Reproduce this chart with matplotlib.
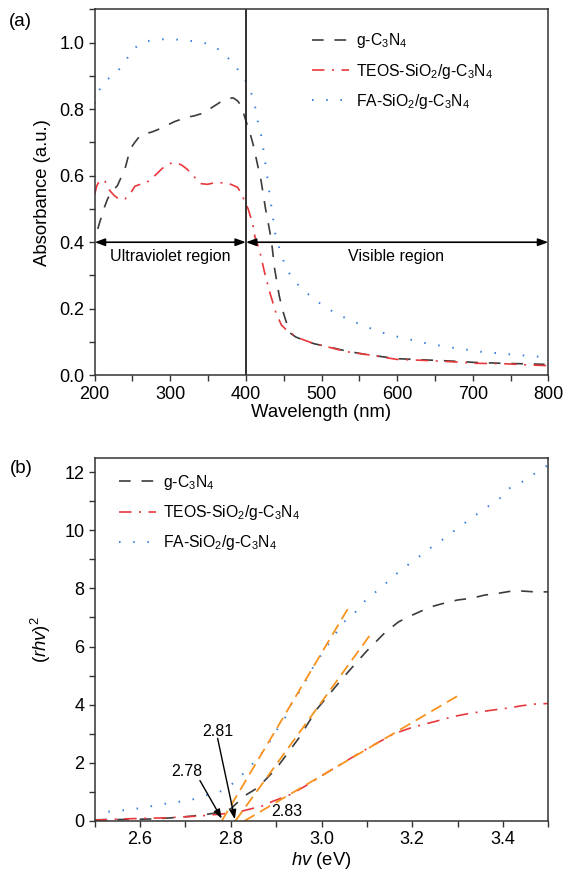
import matplotlib
matplotlib.use("Agg")
import matplotlib.pyplot as plt
from matplotlib.ticker import MultipleLocator

plt.rcParams["font.family"] = ["Liberation Sans", "DejaVu Sans"]
plt.rcParams["mathtext.fontset"] = "custom"
plt.rcParams["mathtext.rm"] = "Liberation Sans"
plt.rcParams["mathtext.it"] = "Liberation Sans:italic"
plt.rcParams["mathtext.bf"] = "Liberation Sans:bold"

# ---- (a) UV-vis absorbance ----
wl_g = [204, 208, 212, 217, 222, 230, 236, 240, 247, 253, 260, 266, 274, 282, 290, 298, 305, 311,
        318, 325, 332, 339, 347, 355, 362, 370, 377, 383, 389, 394, 400, 405, 410, 415, 420, 426,
        431, 434, 438, 444, 448, 452, 458, 466, 474, 490, 510, 527, 545, 560, 580, 600, 640, 680,
        700, 740, 780, 795]
abs_g = [0.44, 0.47, 0.50, 0.53, 0.55, 0.57, 0.60, 0.62, 0.68, 0.70, 0.72, 0.727, 0.73, 0.737,
         0.745, 0.754, 0.762, 0.767, 0.772, 0.777, 0.78, 0.785, 0.79, 0.805, 0.815, 0.827, 0.832,
         0.834, 0.825, 0.809, 0.765, 0.732, 0.69, 0.637, 0.586, 0.50, 0.44, 0.40, 0.32, 0.24, 0.20,
         0.17, 0.128, 0.115, 0.108, 0.095, 0.085, 0.076, 0.068, 0.062, 0.056, 0.050, 0.046, 0.042,
         0.039, 0.036, 0.034, 0.033]

wl_t = [200, 203, 207, 213, 220, 226, 233, 240, 247, 253, 260, 264, 271, 280, 289, 295, 300, 308,
        315, 322, 330, 336, 341, 349, 357, 364, 370, 377, 383, 389, 394, 398, 403, 409, 412, 418,
        425, 432, 440, 447, 456, 471, 489, 507, 533, 564, 599, 634, 670, 705, 740, 775, 800]
abs_t = [0.545, 0.571, 0.586, 0.586, 0.555, 0.54, 0.528, 0.53, 0.546, 0.568, 0.574, 0.581, 0.583,
         0.601, 0.621, 0.632, 0.637, 0.639, 0.632, 0.62, 0.601, 0.585, 0.576, 0.574, 0.578, 0.578,
         0.579, 0.577, 0.571, 0.565, 0.546, 0.525, 0.50, 0.455, 0.416, 0.376, 0.306, 0.246, 0.186,
         0.151, 0.131, 0.111, 0.096, 0.086, 0.071, 0.061, 0.048, 0.045, 0.041, 0.036, 0.035, 0.031,
         0.029]

wl_f = [200, 207, 217, 228, 240, 251, 268, 286, 304, 320, 338, 353, 369, 382, 396, 406, 412, 416,
        421, 424, 427, 430, 433, 439, 445, 452, 462, 476, 493, 510, 530, 551, 571, 590, 611, 632,
        652, 673, 695, 716, 737, 758, 779, 800]
abs_f = [0.817, 0.862, 0.89, 0.907, 0.942, 0.982, 1.004, 1.01, 1.01, 1.007, 1.002, 0.995, 0.972,
         0.94, 0.90, 0.857, 0.809, 0.76, 0.714, 0.664, 0.617, 0.569, 0.518, 0.423, 0.376, 0.329,
         0.288, 0.256, 0.224, 0.198, 0.174, 0.153, 0.136, 0.121, 0.111, 0.099, 0.091, 0.083,
         0.076, 0.069, 0.066, 0.061, 0.058, 0.053]

# ---- (b) Tauc plot ----
hv_g = [2.50, 2.56, 2.63, 2.68, 2.71, 2.74, 2.78, 2.80, 2.83, 2.86, 2.90, 2.95, 2.99, 3.03, 3.06,
        3.10, 3.14, 3.17, 3.20, 3.24, 3.27, 3.30, 3.33, 3.36, 3.39, 3.42, 3.44, 3.47, 3.50]
tauc_g = [0.04, 0.05, 0.07, 0.12, 0.16, 0.21, 0.31, 0.42, 0.86, 1.15, 1.8, 2.85, 3.85, 4.6, 5.15,
          5.85, 6.48, 6.85, 7.08, 7.36, 7.49, 7.6, 7.66, 7.77, 7.83, 7.91, 7.91, 7.88, 7.88]

hv_t = [2.50, 2.56, 2.66, 2.73, 2.78, 2.82, 2.84, 2.87, 2.89, 2.93, 2.96, 3.00, 3.04, 3.08, 3.12,
        3.16, 3.20, 3.25, 3.29, 3.33, 3.38, 3.41, 3.44, 3.47, 3.50]
tauc_t = [0.03, 0.07, 0.11, 0.17, 0.24, 0.32, 0.40, 0.52, 0.66, 0.9, 1.16, 1.55, 1.93, 2.3, 2.66,
          3.0, 3.22, 3.42, 3.59, 3.71, 3.82, 3.88, 3.96, 4.02, 4.04]

hv_f = [2.53, 2.57, 2.60, 2.64, 2.67, 2.71, 2.74, 2.78, 2.81, 2.835, 2.86, 2.88, 2.90, 2.92, 2.935,
        2.955, 2.98, 3.01, 3.03, 3.05, 3.08, 3.10, 3.13, 3.155, 3.18, 3.21, 3.24, 3.27, 3.30, 3.33,
        3.36, 3.39, 3.41, 3.44, 3.47, 3.50]
tauc_f = [0.32, 0.38, 0.44, 0.55, 0.63, 0.71, 0.86, 1.03, 1.35, 1.75, 2.16, 2.58, 3.1, 3.56, 4.07,
          4.53, 5.25, 5.96, 6.42, 6.85, 7.26, 7.65, 8.0, 8.37, 8.69, 9.03, 9.39, 9.71, 10.07, 10.41,
          10.75, 11.04, 11.41, 11.64, 11.95, 12.25]

# tangent lines: x-intercept (band gap) and upper end point
gaps = [2.78, 2.81, 2.83]
fit_x_end = [3.06, 3.11, 3.30]
fit_y_end = [7.35, 6.46, 4.30]

labels = ["g-C$_3$N$_4$", "TEOS-SiO$_2$/g-C$_3$N$_4$", "FA-SiO$_2$/g-C$_3$N$_4$"]

C_G, C_T, C_F, C_FIT = "#3c3c3c", "#e8383c", "#3a7fdc", "#f7931e"
sty_g = dict(color=C_G, lw=1.2, dashes=(7, 6.5))
sty_t = dict(color=C_T, lw=1.2, dashes=(7.5, 4.5, 1.2, 4.5))
sty_f = dict(color=C_F, lw=1.4, dashes=(0.8, 6.5))

FS_TICK, FS_LAB, FS_LEG = 13, 13.3, 11.3

fig = plt.figure(figsize=(5.64, 8.73), dpi=100)
ax1 = fig.add_axes([0.1679, 0.5701, 0.8043, 0.4192])
ax2 = fig.add_axes([0.1679, 0.0596, 0.8043, 0.4163])

for ax in (ax1, ax2):
    for s in ax.spines.values():
        s.set_linewidth(1.1)
        s.set_color("#333333")
    ax.tick_params(which="both", direction="out", length=4, width=1.0, color="#333333",
                   labelsize=FS_TICK)

# (a)
ax1.plot(wl_g, abs_g, label=labels[0], **sty_g)
ax1.plot(wl_t, abs_t, label=labels[1], **sty_t)
ax1.plot(wl_f, abs_f, label=labels[2], **sty_f)
ax1.axvline(400, color="#222222", lw=1.3)
arrow_kw = dict(arrowstyle="<|-|>,head_length=0.6,head_width=0.22", color="k", lw=1.2,
                shrinkA=0, shrinkB=0)
ax1.annotate("", xy=(200, 0.4), xytext=(400, 0.4), arrowprops=arrow_kw)
ax1.annotate("", xy=(400, 0.4), xytext=(800, 0.4), arrowprops=arrow_kw)
ax1.text(300, 0.358, "Ultraviolet region", ha="center", va="center", fontsize=11.5)
ax1.text(598, 0.358, "Visible region", ha="center", va="center", fontsize=11.5)
ax1.set_xlim(200, 800)
ax1.set_ylim(0, 1.1)
ax1.xaxis.set_major_locator(MultipleLocator(100))
ax1.xaxis.set_minor_locator(MultipleLocator(50))
ax1.yaxis.set_major_locator(MultipleLocator(0.2))
ax1.yaxis.set_minor_locator(MultipleLocator(0.1))
ax1.yaxis.set_major_formatter(matplotlib.ticker.FormatStrFormatter("%.1f"))
ax1.set_xlabel("Wavelength (nm)", fontsize=FS_LAB, labelpad=1)
ax1.set_ylabel("Absorbance (a.u.)", fontsize=FS_LAB, labelpad=6)
ax1.legend(loc="upper left", bbox_to_anchor=(0.478, 0.94), frameon=False, fontsize=FS_LEG,
           handlelength=2.4, handletextpad=0.45, labelspacing=0.72, borderpad=0,
           borderaxespad=0)

# (b)
ax2.plot(hv_g, tauc_g, label=labels[0], **sty_g)
ax2.plot(hv_t, tauc_t, label=labels[1], **sty_t)
ax2.plot(hv_f, tauc_f, label=labels[2], **sty_f)
for x0, x1, y1 in zip(gaps, fit_x_end, fit_y_end):
    ax2.plot([x0, x1], [0, y1], color=C_FIT, lw=1.3, dashes=(6.5, 3.5))
head = dict(arrowstyle="-|>,head_length=0.55,head_width=0.2", color="k", lw=1.0,
            shrinkA=0, shrinkB=0)
ax2.annotate("", xy=(gaps[0], 0.08), xytext=(2.732, 1.39), arrowprops=head)
ax2.annotate("", xy=(gaps[1] - 0.001, 0.06), xytext=(2.771, 2.84), arrowprops=head)
ax2.text(2.703, 1.71, f"{gaps[0]:.2f}", ha="center", va="center", fontsize=11.5)
ax2.text(2.772, 3.07, f"{gaps[1]:.2f}", ha="center", va="center", fontsize=11.5)
ax2.text(2.923, 0.32, f"{gaps[2]:.2f}", ha="center", va="center", fontsize=11.5)
ax2.set_xlim(2.5, 3.5)
ax2.set_ylim(0, 12.5)
ax2.xaxis.set_major_locator(MultipleLocator(0.2))
ax2.xaxis.set_minor_locator(MultipleLocator(0.1))
ax2.yaxis.set_major_locator(MultipleLocator(2))
ax2.yaxis.set_minor_locator(MultipleLocator(1))
ax2.set_xlabel(r"$\mathit{hv}$ (eV)", fontsize=FS_LAB, labelpad=1)
ax2.set_ylabel(r"($\mathit{rhv}$)$^2$", fontsize=FS_LAB, labelpad=8)
ax2.legend(loc="upper left", bbox_to_anchor=(0.053, 0.958), frameon=False, fontsize=FS_LEG,
           handlelength=2.4, handletextpad=0.45, labelspacing=0.72, borderpad=0,
           borderaxespad=0)

fig.text(0.037, 0.975, "(a)", fontsize=13.5, ha="center", va="center")
fig.text(0.037, 0.463, "(b)", fontsize=13.5, ha="center", va="center")

fig.savefig("out.png", dpi=100)
